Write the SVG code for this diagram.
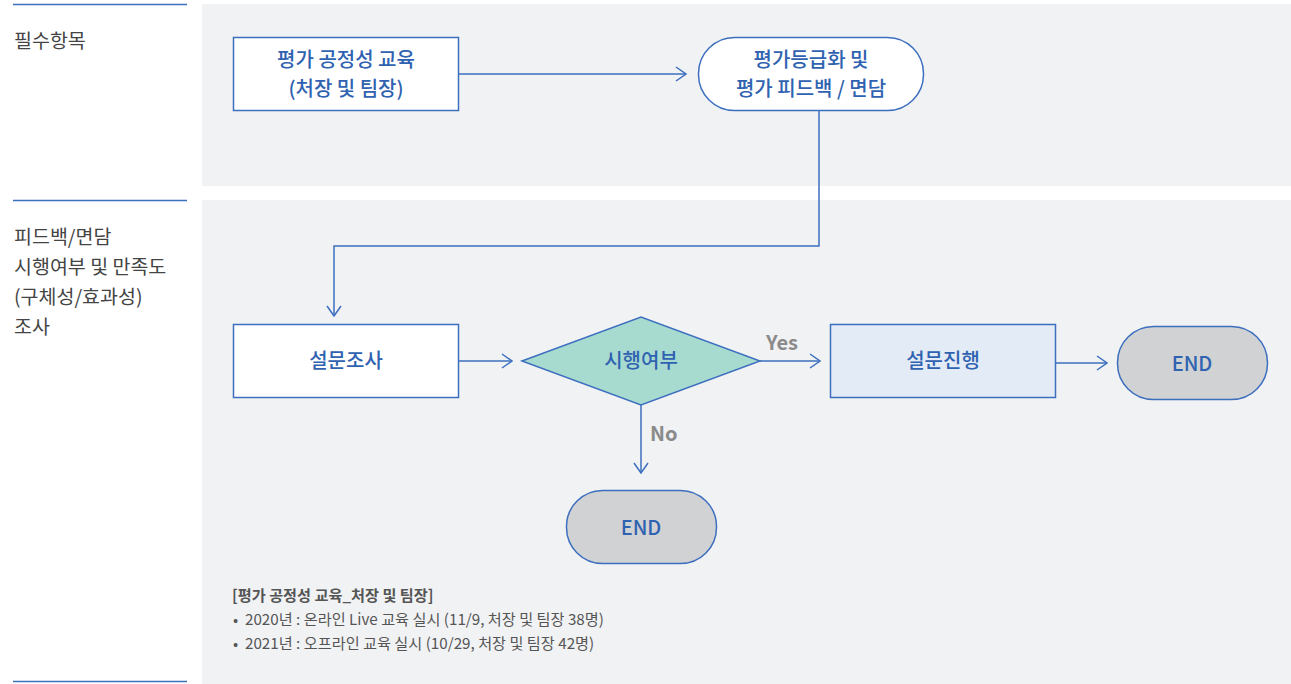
<svg xmlns="http://www.w3.org/2000/svg" width="1291" height="684" viewBox="0 0 1291 684">
<defs>
<marker id="ah" markerWidth="12" markerHeight="16" refX="11" refY="8" orient="auto" markerUnits="userSpaceOnUse">
<path d="M1,1 L11,8 L1,15" fill="none" stroke="#3d6fbf" stroke-width="1.5"/>
</marker>
<style>
text{font-family:"Noto Sans CJK KR","Noto Sans",sans-serif}
.panel{fill:#f1f2f4}
.sep{stroke:#3d6fbf;stroke-width:1.5}
.side{font-size:19.5px;fill:#444}
.box{stroke:#3d6fbf;stroke-width:1.5}
.nt{font-size:20px;font-weight:500;fill:#2f62b0;text-anchor:middle}
.conn{fill:none;stroke:#3d6fbf;stroke-width:1.5}
.lbl{font-size:20px;font-weight:bold;fill:#8a8a8a}
.note{font-size:15.2px;fill:#555}
</style>
</defs>
<rect class="panel" x="202" y="4" width="1089" height="182"/>
<rect class="panel" x="202" y="200" width="1089" height="484"/>
<line class="sep" x1="13" y1="4.5" x2="187" y2="4.5"/>
<line class="sep" x1="13" y1="200.5" x2="187" y2="200.5"/>
<line class="sep" x1="13" y1="681.5" x2="187" y2="681.5"/>
<text class="side" x="14" y="48">필수항목</text>
<text class="side" x="14" y="244">피드백/면담</text>
<text class="side" x="14" y="274">시행여부 및 만족도</text>
<text class="side" x="14" y="304">(구체성/효과성)</text>
<text class="side" x="14" y="334">조사</text>
<g id="connectors">
<line class="conn" x1="459" y1="74" x2="686" y2="74" marker-end="url(#ah)"/>
<polyline class="conn" points="819,110 819,246 334,246 334,316" marker-end="url(#ah)"/>
<line class="conn" x1="459" y1="361" x2="512" y2="361" marker-end="url(#ah)"/>
<line class="conn" x1="760" y1="361" x2="820" y2="361" marker-end="url(#ah)"/>
<line class="conn" x1="1056" y1="363" x2="1107" y2="363" marker-end="url(#ah)"/>
<line class="conn" x1="641" y1="405" x2="641" y2="473" marker-end="url(#ah)"/>
<text class="lbl" x="766" y="350">Yes</text>
<text class="lbl" x="650" y="441">No</text>
</g>
<g id="n1">
<rect class="box" x="233.5" y="37.5" width="225" height="73" fill="#fff"/>
<text class="nt" x="346" y="67">평가 공정성 교육</text>
<text class="nt" x="346" y="96">(처장 및 팀장)</text>
</g>
<g id="n2">
<rect class="box" x="698.5" y="37.5" width="225" height="73" rx="36" fill="#fff"/>
<text class="nt" x="811" y="67">평가등급화 및</text>
<text class="nt" x="811" y="96">평가 피드백 / 면담</text>
</g>
<g id="n3">
<rect class="box" x="233.5" y="324.5" width="225" height="73" fill="#fff"/>
<text class="nt" x="346" y="368">설문조사</text>
</g>
<g id="n4">
<polygon class="box" points="522,361 641,317 760,361 641,405" fill="#a8dbd0"/>
<text class="nt" x="641" y="368">시행여부</text>
</g>
<g id="n5">
<rect class="box" x="830.5" y="324.5" width="225" height="73" fill="#e3ebf6"/>
<text class="nt" x="943" y="368">설문진행</text>
</g>
<g id="n6">
<rect class="box" x="1117.5" y="326.5" width="150" height="73" rx="36" fill="#d1d2d4"/>
<text class="nt" x="1192" y="371">END</text>
</g>
<g id="n7">
<rect class="box" x="566.5" y="490.5" width="150" height="73" rx="36" fill="#d1d2d4"/>
<text class="nt" x="641" y="535">END</text>
</g>
<g id="notes">
<text class="note" x="232" y="601" font-weight="bold">[평가 공정성 교육_처장 및 팀장]</text>
<text class="note" x="233" y="625">•</text>
<text class="note" x="245" y="625">2020년 : 온라인 Live 교육 실시 (11/9, 처장 및 팀장 38명)</text>
<text class="note" x="233" y="649">•</text>
<text class="note" x="245" y="649">2021년 : 오프라인 교육 실시 (10/29, 처장 및 팀장 42명)</text>
</g>
</svg>
